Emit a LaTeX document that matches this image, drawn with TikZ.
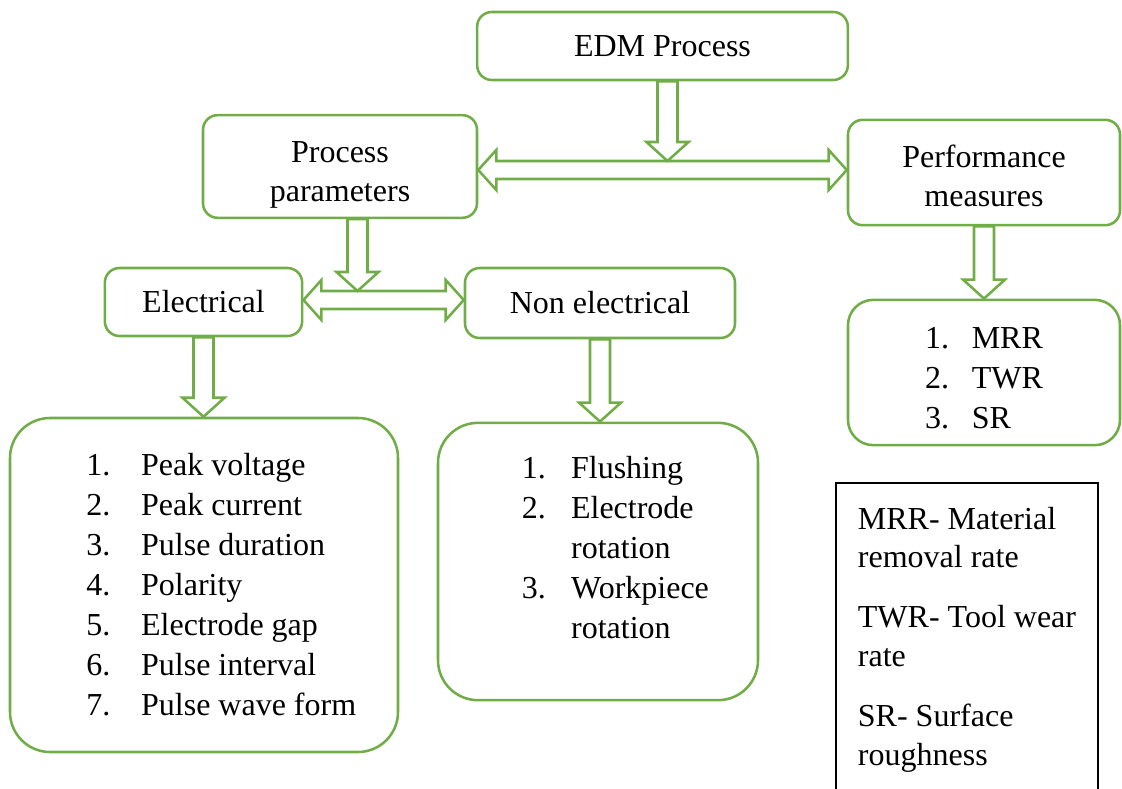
\documentclass[tikz,border=0pt]{standalone}
\usepackage{fontspec}
\setmainfont{Liberation Serif}
\usetikzlibrary{calc}
\definecolor{BoxGreen}{HTML}{70AD47}

% hollow block arrows: down (start, tip) and two-headed (left tip, right tip)
\newcommand{\blockdown}[2]{%
  \draw[blockarr] ($#1+(-10,0)$) -- ($#2+(-10,-19)$) -- ($#2+(-21,-19)$) -- #2
    -- ($#2+(21,-19)$) -- ($#2+(10,-19)$) -- ($#1+(10,0)$) -- cycle;}
\newcommand{\blockboth}[2]{%
  \draw[blockarr] #1 -- ($#1+(18,-20)$) -- ($#1+(18,-9)$) -- ($#2+(-18,-9)$) -- ($#2+(-18,-20)$) -- #2
    -- ($#2+(-18,20)$) -- ($#2+(-18,9)$) -- ($#1+(18,9)$) -- ($#1+(18,20)$) -- cycle;}

\begin{document}
\begin{tikzpicture}[
    x=0.75pt, y=-0.75pt,
    font=\fontsize{24}{29}\selectfont,
    greenbox/.style={draw=BoxGreen, line width=1.9pt, rounded corners=11pt, align=center},
    listbox/.style={draw=BoxGreen, line width=1.9pt, rounded corners=30pt, font=\fontsize{24}{30}\selectfont},
    notebox/.style={draw=black, line width=1pt, align=left},
    blockarr/.style={draw=BoxGreen, line width=1.9pt, fill=white, line join=miter}
]
\useasboundingbox (0,0) rectangle (1122,789);
\node[greenbox, minimum width=278pt, minimum height=51pt] (edm) at (662.5,46) {EDM Process};
\node[greenbox, minimum width=205.5pt, minimum height=77pt] (params) at (340,166.5) {\rule{0pt}{28pt}Process\\parameters};
\node[greenbox, minimum width=204pt, minimum height=79pt] (perf) at (984,172.5) {\rule{0pt}{22pt}Performance\\measures};
\node[greenbox, minimum width=148pt, minimum height=51pt] (elec) at (203.5,302) {Electrical};
\node[greenbox, minimum width=202.5pt, minimum height=52.5pt] (nonelec) at (600,303) {Non electrical};
\node[listbox, rounded corners=19pt, minimum width=204pt, minimum height=109pt] (perflist) at (984,372.5)
  {\begin{tabular}{@{}l@{\hspace{17pt}}l@{}}1. & \rule{0pt}{33pt}MRR\\ 2. & TWR\\ 3. & SR\end{tabular}};
\node[listbox, minimum width=291pt, minimum height=250.5pt] (elist) at (204,585)
  {\hspace*{26pt}\begin{tabular}{@{}l@{\hspace{23pt}}l@{}}1. & \rule{0pt}{25pt}Peak voltage\\ 2. & Peak current\\ 3. & Pulse duration\\
   4. & Polarity\\ 5. & Electrode gap\\ 6. & Pulse interval\\ 7. & Pulse wave form\end{tabular}};
\node[listbox, minimum width=240pt, minimum height=208pt] (nlist) at (598,561.5)
  {\hspace*{26pt}\begin{tabular}{@{}l@{\hspace{19pt}}l@{}}1. & Flushing\\ 2. & Electrode\\ & rotation\\
   3. & Workpiece\\ & rotation\\[17pt]\end{tabular}};
\node[notebox, minimum width=196.5pt, minimum height=238pt] (notes) at (967,641.5)
  {MRR- Material\\removal rate\\[16pt]TWR- Tool wear\\rate\\[16pt]SR- Surface\\roughness\\[-21pt]};
% meeting points of the arrows
\coordinate (link1) at (667.5,170);
\coordinate (link2) at (357.5,300);
\coordinate (tip1) at (667.5,161);
\coordinate (tip2) at (357.5,291);
\blockboth{(params.east |- link1)}{(perf.west |- link1)}
\blockdown{(edm.south -| link1)}{(tip1)}
\blockboth{(elec.east |- link2)}{(nonelec.west |- link2)}
\blockdown{(params.south -| link2)}{(tip2)}
\blockdown{(elec.south)}{(elec.south |- elist.north)}
\blockdown{(nonelec.south)}{(nonelec.south |- nlist.north)}
\blockdown{(perf.south)}{(perf.south |- perflist.north)}
\end{tikzpicture}
\end{document}
